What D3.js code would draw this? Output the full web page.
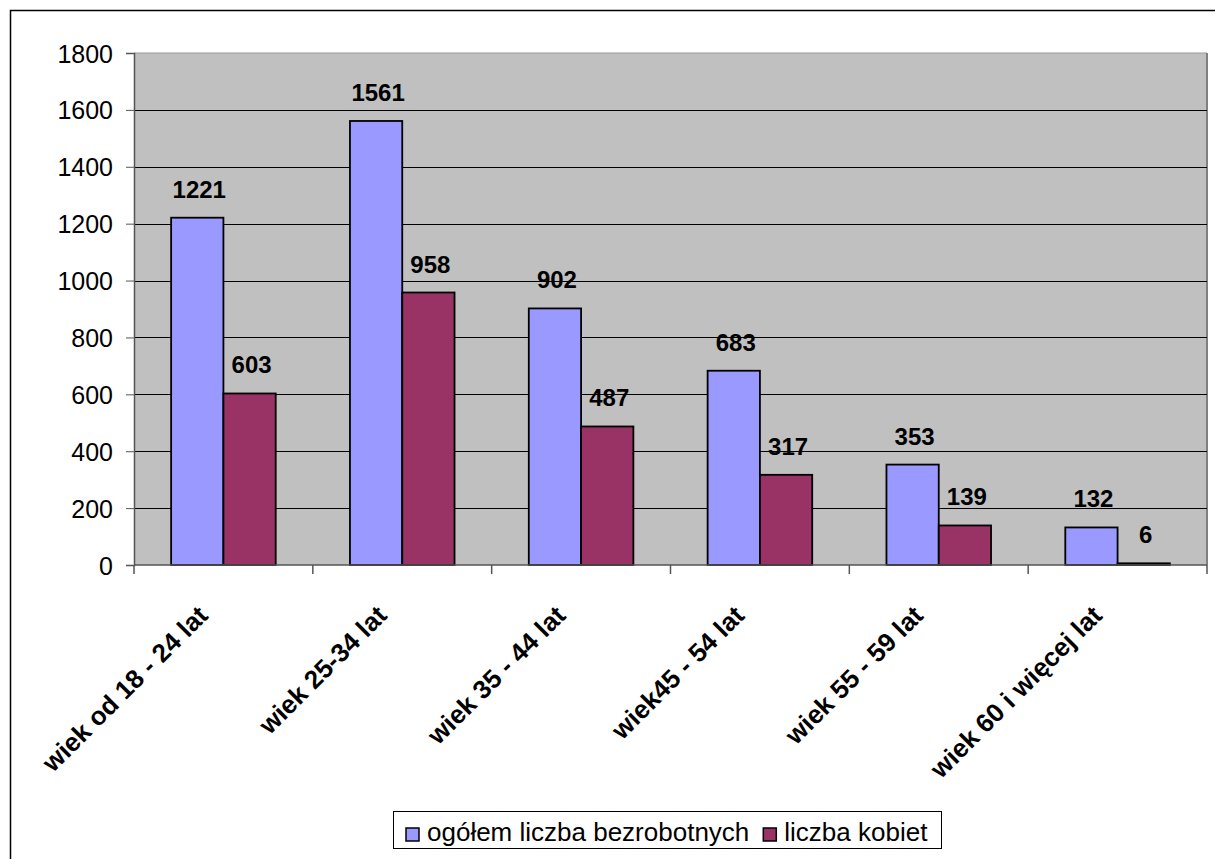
<!DOCTYPE html>
<html>
<head>
<meta charset="utf-8">
<script src="https://cdn.jsdelivr.net/npm/d3@7"></script>
<style>
  body { margin: 0; background: #fff; }
  svg text { font-family: "Liberation Sans", Arial, sans-serif; fill: #000; }
</style>
</head>
<body>
<svg id="chart" width="1215" height="859"></svg>
<script>
// age groups and the two series
var categories = ["wiek od 18 - 24 lat", "wiek 25-34 lat", "wiek 35 - 44 lat",
                  "wiek45 - 54 lat", "wiek 55 - 59 lat", "wiek 60 i więcej lat"];
var seriesNames = ["ogółem liczba bezrobotnych", "liczba kobiet"];
var ogolem = [1221, 1561, 902, 683, 353, 132];
var kobiety = [603, 958, 487, 317, 139, 6];
var yTicks = [0, 200, 400, 600, 800, 1000, 1200, 1400, 1600, 1800];
var colors = ["#9999FF", "#993366"];

var svg = d3.select("#chart");

// outer frame (only top + left visible in the picture)
svg.append("path")
    .attr("d", "M10.5,860 L10.5,10.5 L1216,10.5")
    .attr("fill", "none")
    .attr("stroke", "#000")
    .attr("stroke-width", 1.5);

var plot = {left: 134, right: 1207, top: 53, bottom: 565};

var x = d3.scaleBand()
    .domain(categories)
    .range([plot.left, plot.right]);

var xs = d3.scaleBand()
    .domain([0, 1])
    .range([0, x.bandwidth()])
    .paddingInner(0)
    .paddingOuter(0.71);

var y = d3.scaleLinear()
    .domain([0, 1800])
    .range([plot.bottom, plot.top]);

// plot background
svg.append("rect")
    .attr("x", plot.left)
    .attr("y", plot.top)
    .attr("width", plot.right - plot.left)
    .attr("height", plot.bottom - plot.top)
    .attr("fill", "#C0C0C0");

// shadow-ish edges on the plot area
svg.append("line")
    .attr("x1", plot.left).attr("x2", plot.right)
    .attr("y1", plot.top).attr("y2", plot.top)
    .attr("stroke", "#999").attr("stroke-width", 1);
svg.append("line")
    .attr("x1", plot.right).attr("x2", plot.right)
    .attr("y1", plot.top).attr("y2", plot.bottom)
    .attr("stroke", "#808080").attr("stroke-width", 2);

// gridlines
svg.append("g")
    .selectAll("line")
    .data(yTicks.filter(function(d) { return d > 0 && d < 1800; }))
    .enter().append("line")
    .attr("x1", plot.left).attr("x2", plot.right)
    .attr("y1", function(d) { return Math.round(y(d)) + 0.5; })
    .attr("y2", function(d) { return Math.round(y(d)) + 0.5; })
    .attr("stroke", "#000")
    .attr("stroke-width", 1);

// y axis
var yAxis = svg.append("g")
    .attr("transform", "translate(" + plot.left + ",0)")
    .call(d3.axisLeft(y).tickValues(yTicks).tickSize(8).tickPadding(13).tickFormat(d3.format("d")));
yAxis.select(".domain").attr("stroke", "#555").attr("stroke-width", 1.5);
yAxis.selectAll(".tick line").attr("stroke", "#555");
yAxis.selectAll("text")
    .style("font-size", "25px")
    .attr("dy", "0.36em");

// bars
var groups = svg.append("g")
    .selectAll("g")
    .data(categories)
    .enter().append("g")
    .attr("transform", function(d) { return "translate(" + x(d) + ",0)"; });

groups.each(function(cat, i) {
    var g = d3.select(this);
    var vals = [ogolem[i], kobiety[i]];
    vals.forEach(function(v, s) {
        g.append("rect")
            .attr("x", xs(s))
            .attr("y", y(v))
            .attr("width", xs.bandwidth())
            .attr("height", y(0) - y(v))
            .attr("fill", colors[s])
            .attr("stroke", "#000")
            .attr("stroke-width", 1.8);
        g.append("text")
            .attr("x", xs(s) + xs.bandwidth() / 2 + 2)
            .attr("y", y(v) - 20)
            .attr("text-anchor", "middle")
            .style("font-size", "24px")
            .style("font-weight", "bold")
            .text(v);
    });
});

// x axis
var xAxis = svg.append("g")
    .attr("transform", "translate(0," + plot.bottom + ")");
xAxis.append("line")
    .attr("x1", plot.left).attr("x2", plot.right)
    .attr("y1", 0).attr("y2", 0)
    .attr("stroke", "#555").attr("stroke-width", 1.5);
xAxis.selectAll("line.tk")
    .data(categories.concat(["end"]))
    .enter().append("line")
    .attr("class", "tk")
    .attr("x1", function(d, i) { return plot.left + i * x.step(); })
    .attr("x2", function(d, i) { return plot.left + i * x.step(); })
    .attr("y1", 0).attr("y2", 9)
    .attr("stroke", "#555").attr("stroke-width", 1.5);
xAxis.selectAll("text")
    .data(categories)
    .enter().append("text")
    .attr("transform", function(d) {
        return "translate(" + (x(d) + x.bandwidth() / 2 - 14) + ",52) rotate(-45)";
    })
    .attr("text-anchor", "end")
    .style("font-size", "26px")
    .style("font-weight", "bold")
    .text(function(d) { return d; });

// legend
var legend = svg.append("g");
legend.append("rect")
    .attr("x", 393.5).attr("y", 811.5)
    .attr("width", 548).attr("height", 37)
    .attr("fill", "#fff")
    .attr("stroke", "#000")
    .attr("stroke-width", 1);

var lx = 406;
seriesNames.forEach(function(name, s) {
    legend.append("rect")
        .attr("x", lx).attr("y", 828)
        .attr("width", 13).attr("height", 13)
        .attr("fill", colors[s])
        .attr("stroke", "#000")
        .attr("stroke-width", 1.5);
    var t = legend.append("text")
        .attr("x", lx + 21)
        .attr("y", 841)
        .style("font-size", "26px")
        .text(name);
    lx += 21 + t.node().getComputedTextLength() + 14;
});
</script>
</body>
</html>
